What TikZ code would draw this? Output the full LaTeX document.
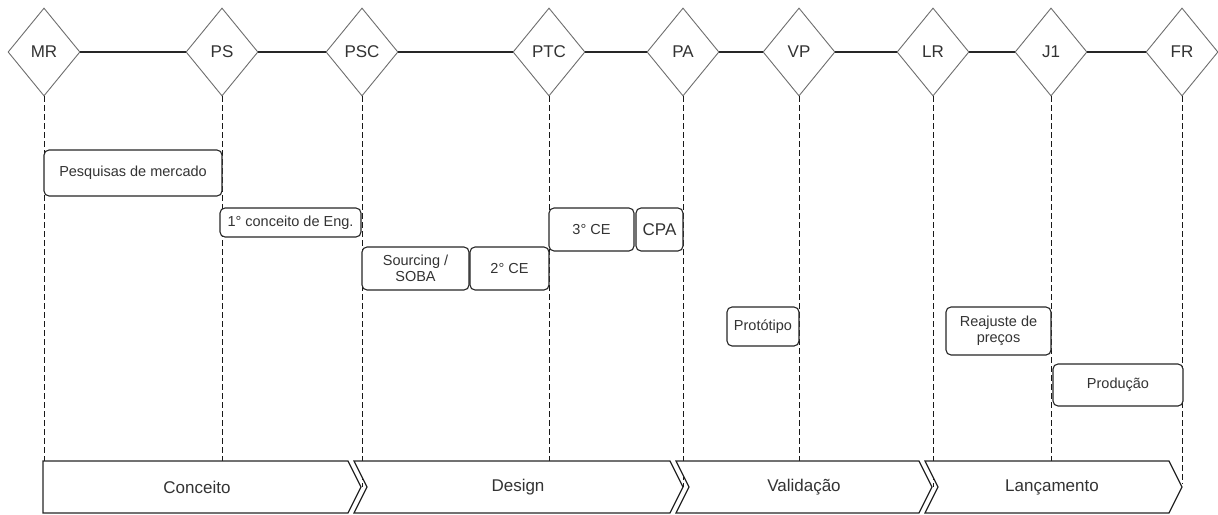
\documentclass[tikz,border=0pt]{standalone}
\usepackage{fontspec}
\setmainfont{Liberation Sans}
\usetikzlibrary{shapes.geometric}
\definecolor{dgray}{HTML}{333333}
\definecolor{mgray}{HTML}{6E6E6E}
\begin{document}
\begin{tikzpicture}[x=1pt,y=-1pt,
  milestone/.style={diamond, draw=mgray, line width=0.9pt, fill=white, minimum width=72pt, minimum height=88pt, inner sep=0pt, text=dgray, font=\fontsize{17}{18}\selectfont},
  tline/.style={draw=black!85, line width=1.2pt},
  vline/.style={draw=black!90, line width=1pt, dash pattern=on 5.5pt off 3.5pt},
  task/.style={draw=black!85, line width=1.1pt, rounded corners=5pt, fill=white, inner sep=1pt, align=center, text=dgray, font=\fontsize{14.5}{16}\selectfont},
  phase/.style={draw=black!85, line width=1.2pt, fill=white, line join=miter},
  phaselabel/.style={text=dgray, font=\fontsize{17}{18}\selectfont}
]
\useasboundingbox (0,0) rectangle (1218,514);

% milestones
\node[milestone] (MR)  at (44,52)   {MR};
\node[milestone] (PS)  at (222,52)  {PS};
\node[milestone] (PSC) at (362,52)  {PSC};
\node[milestone] (PTC) at (549,52)  {PTC};
\node[milestone] (PA)  at (683,52)  {PA};
\node[milestone] (VP)  at (799,52)  {VP};
\node[milestone] (LR)  at (933,52)  {LR};
\node[milestone] (J1)  at (1051,52) {J1};
\node[milestone] (FR)  at (1182,52) {FR};

% timeline
\draw[tline] (MR.east) -- (PS.west);
\draw[tline] (PS.east) -- (PSC.west);
\draw[tline] (PSC.east) -- (PTC.west);
\draw[tline] (PTC.east) -- (PA.west);
\draw[tline] (PA.east) -- (VP.west);
\draw[tline] (VP.east) -- (LR.west);
\draw[tline] (LR.east) -- (J1.west);
\draw[tline] (J1.east) -- (FR.west);

% dashed drop lines
\coordinate (eMR)  at (44,487);
\coordinate (ePS)  at (222,487);
\coordinate (ePSC) at (362,487);
\coordinate (ePTC) at (549,487);
\coordinate (ePA)  at (683,487);
\coordinate (eVP)  at (799,487);
\coordinate (eLR)  at (933,487);
\coordinate (eJ1)  at (1051,487);
\coordinate (eFR)  at (1182,484);
\draw[vline] (MR.south) -- (eMR);
\draw[vline] (PS.south) -- (ePS);
\draw[vline] (PSC.south) -- (ePSC);
\draw[vline] (PTC.south) -- (ePTC);
\draw[vline] (PA.south) -- (ePA);
\draw[vline] (VP.south) -- (eVP);
\draw[vline] (LR.south) -- (eLR);
\draw[vline] (J1.south) -- (eJ1);
\draw[vline] (FR.south) -- (eFR);

% tasks
\node[task, minimum width=178pt, minimum height=46pt] (pm)   at (133,173)   {Pesquisas de mercado};
\node[task, minimum width=141pt, minimum height=29pt] (ce1)  at (290.5,222.5) {1° conceito de Eng.};
\node[task, minimum width=107pt, minimum height=43pt] (sob)  at (415.5,268.5) {Sourcing /\\SOBA};
\node[task, minimum width=79pt,  minimum height=43pt] (ce2)  at (509.5,268.5) {2° CE};
\node[task, minimum width=85pt,  minimum height=43pt] (ce3)  at (591.5,229.5) {3° CE};
\node[task, minimum width=47pt,  minimum height=43pt, font=\fontsize{17}{18}\selectfont] (cpa) at (659.5,229.5) {CPA};
\node[task, minimum width=72pt,  minimum height=39pt] (prot) at (763,326.5)   {Protótipo};
\node[task, minimum width=105pt, minimum height=48pt] (rea)  at (998.5,331)   {Reajuste de\\preços};
\node[task, minimum width=130pt, minimum height=42pt] (prod) at (1118,385)    {Produção};

% phases
\draw[phase] (43,461) -- (348,461) -- (361,487) -- (348,513) -- (43,513) -- cycle;
\draw[phase] (354,461) -- (670,461) -- (683,487) -- (670,513) -- (354,513) -- (367,487) -- cycle;
\draw[phase] (676,461) -- (919,461) -- (932,487) -- (919,513) -- (676,513) -- (689,487) -- cycle;
\draw[phase] (925,461) -- (1169,461) -- (1182,487) -- (1169,513) -- (925,513) -- (938,487) -- cycle;
\node[phaselabel] (conceito) at (197,487)  {Conceito};
\node[phaselabel] (design)   at (518,487)  {Design};
\node[phaselabel] (valid)    at (804,487)  {Validação};
\node[phaselabel] (lanc)     at (1052,487) {Lançamento};
\end{tikzpicture}
\end{document}
